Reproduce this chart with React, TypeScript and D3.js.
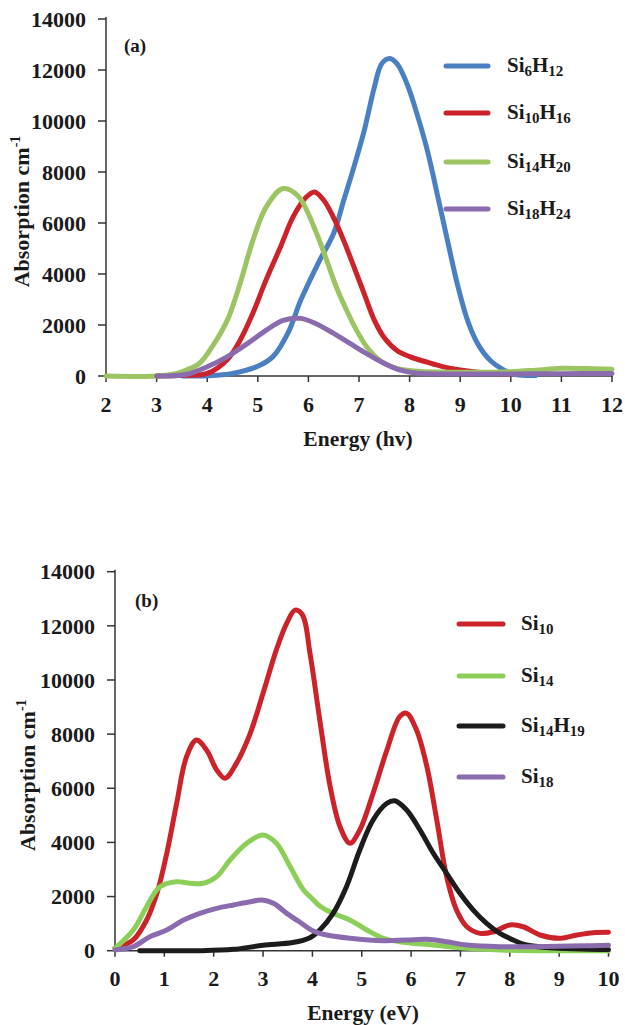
import React from "react";
import * as d3 from "d3";

// ---------- Data: panel (a) ----------
const aXTicks = [2, 3, 4, 5, 6, 7, 8, 9, 10, 11, 12];
const aYTicks = [0, 2000, 4000, 6000, 8000, 10000, 12000, 14000];

const si6h12E = [3.5, 4.0, 4.5, 5.0, 5.3, 5.6, 5.85, 6.2, 6.5, 6.7, 6.9, 7.1, 7.3, 7.45, 7.6, 7.75, 7.95, 8.15, 8.35, 8.55, 8.75, 8.95, 9.15, 9.35, 9.6, 9.85, 10.1, 10.5];
const si6h12A = [0, 10, 100, 380, 760, 1700, 2980, 4450, 5600, 6900, 8200, 9600, 11300, 12250, 12450, 12250, 11450, 10250, 8850, 7100, 5300, 3550, 2150, 1250, 600, 250, 60, 20];

const si10h16E = [3.0, 3.5, 4.0, 4.4, 4.65, 4.9, 5.15, 5.45, 5.7, 5.95, 6.12, 6.3, 6.5, 6.7, 6.9, 7.1, 7.3, 7.5, 7.75, 8.0, 8.35, 8.65, 9.0, 9.5, 10.0];
const si10h16A = [0, 30, 100, 650, 1400, 2450, 3700, 5070, 6250, 7000, 7220, 6900, 6200, 5300, 4280, 3240, 2200, 1500, 1000, 760, 540, 370, 240, 120, 80];

const si14h20E = [2, 3, 3.4, 3.6, 3.85, 4.1, 4.4, 4.65, 4.9, 5.17, 5.5, 5.8, 6.15, 6.35, 6.55, 6.75, 6.95, 7.15, 7.4, 7.75, 8.1, 9, 10, 10.5, 11, 11.5, 12];
const si14h20A = [0, 0, 100, 240, 500, 1150, 2200, 3630, 5300, 6640, 7350, 7050, 5650, 4600, 3500, 2600, 1800, 1150, 630, 300, 200, 150, 170, 230, 300, 290, 260];

const si18h24E = [3, 3.6, 4.0, 4.4, 4.8, 5.17, 5.5, 5.85, 6.15, 6.5, 6.82, 7.15, 7.5, 7.8, 8.15, 9, 10, 11, 12];
const si18h24A = [0, 70, 360, 760, 1280, 1800, 2180, 2260, 2050, 1670, 1280, 880, 490, 240, 110, 80, 80, 90, 100];

// ---------- Data: panel (b) ----------
const bXTicks = [0, 1, 2, 3, 4, 5, 6, 7, 8, 9, 10];
const bYTicks = [0, 2000, 4000, 6000, 8000, 10000, 12000, 14000];

const si10E = [0, 0.37, 0.64, 0.85, 1.05, 1.25, 1.45, 1.65, 1.86, 2.06, 2.23, 2.46, 2.74, 3.0, 3.27, 3.48, 3.65, 3.8, 3.95, 4.15, 4.36, 4.56, 4.76, 4.96, 5.23, 5.51, 5.77, 5.91, 6.11, 6.32, 6.52, 6.72, 6.92, 7.13, 7.4, 7.67, 8.0, 8.27, 8.61, 9.02, 9.36, 9.69, 10.0];
const si10A = [90, 400, 1130, 2120, 3600, 5450, 7170, 7780, 7400, 6680, 6370, 6920, 8030, 9510, 11110, 12100, 12580, 12400, 11000, 8520, 6060, 4580, 3970, 4460, 5815, 7415, 8645, 8770, 8150, 6800, 4830, 2735, 1500, 885, 640, 700, 950, 885, 580, 460, 580, 665, 680];

const si14E = [0, 0.37, 0.64, 0.91, 1.25, 1.52, 1.79, 2.06, 2.33, 2.67, 3.0, 3.27, 3.55, 3.82, 3.98, 4.15, 4.42, 4.76, 5.1, 5.44, 5.77, 6.45, 7.13, 7.8, 8.5, 10];
const si14A = [90, 765, 1625, 2365, 2550, 2490, 2490, 2735, 3350, 3970, 4275, 3970, 3100, 2240, 1950, 1650, 1380, 1135, 765, 460, 330, 210, 90, 30, 0, 0];

const si14h19E = [0.5, 1.7, 2.4, 3.0, 3.6, 3.95, 4.15, 4.42, 4.69, 4.96, 5.23, 5.51, 5.67, 5.91, 6.18, 6.45, 6.72, 6.99, 7.26, 7.53, 7.8, 8.07, 8.34, 8.74, 9.14, 10];
const si14h19A = [0, 0, 50, 200, 300, 480, 765, 1380, 2365, 3720, 4830, 5445, 5540, 5200, 4460, 3600, 2860, 2120, 1500, 1010, 640, 395, 210, 120, 80, 40];

const si18E = [0, 0.37, 0.71, 1.05, 1.39, 1.72, 2.06, 2.4, 2.74, 2.98, 3.21, 3.48, 3.75, 4.02, 4.29, 4.76, 5.44, 5.91, 6.32, 6.72, 7.13, 7.8, 8.5, 9.5, 10];
const si18A = [30, 150, 520, 765, 1135, 1380, 1565, 1690, 1810, 1875, 1750, 1380, 1050, 730, 580, 460, 370, 395, 420, 330, 210, 150, 150, 180, 200];

const FONT = "'Liberation Serif', 'Times New Roman', serif";

type Series = { E: number[]; A: number[]; color: string; label: [string, string][] };

const seriesA: Series[] = [
  { E: si6h12E, A: si6h12A, color: "#4a80c2", label: [["Si", "n"], ["6", "s"], ["H", "n"], ["12", "s"]] },
  { E: si10h16E, A: si10h16A, color: "#cc2229", label: [["Si", "n"], ["10", "s"], ["H", "n"], ["16", "s"]] },
  { E: si14h20E, A: si14h20A, color: "#9cc463", label: [["Si", "n"], ["14", "s"], ["H", "n"], ["20", "s"]] },
  { E: si18h24E, A: si18h24A, color: "#8a6cae", label: [["Si", "n"], ["18", "s"], ["H", "n"], ["24", "s"]] },
];

const seriesB: Series[] = [
  { E: si10E, A: si10A, color: "#cc2229", label: [["Si", "n"], ["10", "s"]] },
  { E: si14E, A: si14A, color: "#8ccf58", label: [["Si", "n"], ["14", "s"]] },
  { E: si14h19E, A: si14h19A, color: "#1c1c1c", label: [["Si", "n"], ["14", "s"], ["H", "n"], ["19", "s"]] },
  { E: si18E, A: si18A, color: "#8a6cae", label: [["Si", "n"], ["18", "s"]] },
];

type PanelProps = {
  x0: number; x1: number; y0: number; y1: number;
  xDomain: [number, number]; xTicks: number[]; yTicks: number[];
  series: Series[]; tag: string; tagX: number; tagY: number;
  xTitle: string; xTitleX: number; yTitleX: number;
  legX: number; legW: number; legTextX: number; legY: number[];
};

function Label({ parts, x, y }: { parts: [string, string][]; x: number; y: number }) {
  return (
    <text x={x} y={y} fontFamily={FONT} fontWeight="bold" fontSize={21} fill="#1a1a1a">
      {parts.map(([t, k], i) => {
        const prevSub = i > 0 && parts[i - 1][1] === "s";
        const dy = k === "s" ? 4 : prevSub ? -4 : 0;
        return (
          <tspan key={i} fontSize={k === "s" ? 15 : 21} dy={dy}>{t}</tspan>
        );
      })}
    </text>
  );
}

function Panel(p: PanelProps) {
  const x = d3.scaleLinear().domain(p.xDomain).range([p.x0, p.x1]);
  const y = d3.scaleLinear().domain([0, 14000]).range([p.y1, p.y0]);
  const line = d3
    .line<[number, number]>()
    .x((d) => x(d[0]))
    .y((d) => y(d[1]))
    .curve(d3.curveCatmullRom.alpha(0.5));
  const axisColor = "#333";
  return (
    <g>
      {/* axes */}
      <line x1={p.x0} x2={p.x0} y1={p.y0 - 2} y2={p.y1} stroke={axisColor} strokeWidth={1.5} />
      <line x1={p.x0} x2={x(p.xDomain[1]) + 1} y1={p.y1} y2={p.y1} stroke={axisColor} strokeWidth={1.5} />
      {p.yTicks.map((t) => (
        <g key={"y" + t}>
          <line x1={p.x0 - 8} x2={p.x0} y1={y(t)} y2={y(t)} stroke={axisColor} strokeWidth={1.5} />
          <text x={p.x0 - 20} y={y(t)} dy="0.35em" textAnchor="end" fontFamily={FONT} fontWeight="bold" fontSize={22} fill="#1a1a1a">
            {t}
          </text>
        </g>
      ))}
      {p.xTicks.map((t) => (
        <g key={"x" + t}>
          <line x1={x(t)} x2={x(t)} y1={p.y1} y2={p.y1 + 6} stroke={axisColor} strokeWidth={1.5} />
          <text x={x(t)} y={p.y1 + 28} dy="0.35em" textAnchor="middle" fontFamily={FONT} fontWeight="bold" fontSize={22} fill="#1a1a1a">
            {t}
          </text>
        </g>
      ))}
      {/* series */}
      {p.series.map((s, i) => (
        <path
          key={"s" + i}
          d={line(s.E.map((e, j) => [e, s.A[j]] as [number, number])) || ""}
          fill="none"
          stroke={s.color}
          strokeWidth={5}
          strokeLinejoin="round"
          strokeLinecap="round"
        />
      ))}
      {/* tag */}
      <text x={p.tagX} y={p.tagY} dy="0.35em" fontFamily={FONT} fontWeight="bold" fontSize={19} fill="#1a1a1a">
        {p.tag}
      </text>
      {/* axis titles */}
      <text x={p.xTitleX} y={p.y1 + 62} dy="0.35em" textAnchor="middle" fontFamily={FONT} fontWeight="bold" fontSize={21.5} fill="#1a1a1a">
        {p.xTitle}
      </text>
      <text
        transform={`translate(${p.yTitleX},${(p.y0 + p.y1) / 2 + 14}) rotate(-90)`}
        textAnchor="middle"
        dy="0.35em"
        fontFamily={FONT}
        fontWeight="bold"
        fontSize={22}
        fill="#1a1a1a"
      >
        Absorption cm<tspan fontSize={14} dy={-9}>-1</tspan>
      </text>
      {/* legend */}
      {p.series.map((s, i) => (
        <g key={"l" + i}>
          <line x1={p.legX} x2={p.legX + p.legW} y1={p.legY[i]} y2={p.legY[i]} stroke={s.color} strokeWidth={5} strokeLinecap="round" />
          <Label parts={s.label} x={p.legTextX} y={p.legY[i] + 6} />
        </g>
      ))}
    </g>
  );
}

export default function App() {
  return (
    <svg width={625} height={1025} style={{ position: "absolute", left: 0, top: 0, background: "#fff" }}>
      <rect x={0} y={0} width={625} height={1025} fill="#fff" />
      <Panel
        x0={106} x1={612} y0={19} y1={376}
        xDomain={[2, 12]} xTicks={aXTicks} yTicks={aYTicks}
        series={seriesA} tag="(a)" tagX={124} tagY={45}
        xTitle="Energy (hv)" xTitleX={358} yTitleX={21}
        legX={446} legW={42} legTextX={507} legY={[66, 113, 162, 209]}
      />
      <Panel
        x0={115} x1={608.5} y0={571.7} y1={950.7}
        xDomain={[0, 10]} xTicks={bXTicks} yTicks={bYTicks}
        series={seriesB} tag="(b)" tagX={135} tagY={600}
        xTitle="Energy (eV)" xTitleX={363} yTitleX={27}
        legX={459} legW={44} legTextX={521} legY={[624, 676, 726, 777]}
      />
    </svg>
  );
}
